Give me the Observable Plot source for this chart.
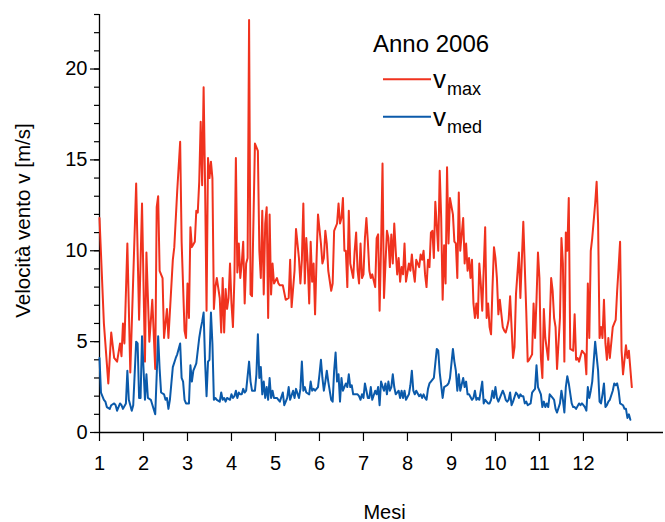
<!DOCTYPE html>
<html><head><meta charset="utf-8">
<script src="https://cdn.jsdelivr.net/npm/d3@7"></script>
<script src="https://cdn.jsdelivr.net/npm/@observablehq/plot@0.6"></script>
<style>body{margin:0;background:#fff} svg{display:block}</style>
</head><body><div id="chart"></div>
<script>
// [giorno dell'anno, velocità m/s]
const vMaxGiornaliera = [[0,11.8],[3,6.0],[4,4.9],[6,2.7],[8,5.5],[10,4.1],[12,3.9],[14,4.9],[15,4.2],[16,6.0],[17,4.9],[19,10.4],[21,3.3],[25,13.7],[27,6.2],[29,12.6],[31,3.9],[32,9.9],[34,5.0],[36,7.3],[38,3.5],[39,12.4],[40,13.0],[41,8.9],[43,8.5],[44,5.2],[46,6.8],[47,5.2],[50,9.5],[51,10.2],[53,13.3],[55,16.0],[56,10.5],[58,5.6],[59,5.2],[60,8.2],[61,6.3],[62,11.3],[63,10.2],[65,10.5],[66,12.2],[67,12.1],[68,13.8],[69,17.1],[70,13.6],[71,19.0],[72,13.6],[73,6.7],[74,15.1],[75,14.0],[76,14.9],[77,14.0],[78,6.8],[79,8.0],[80,8.5],[82,7.4],[83,5.5],[84,8.5],[85,5.5],[86,7.9],[87,6.8],[88,7.4],[89,9.3],[90,7.1],[91,5.8],[92,8.5],[93,15.1],[94,8.8],[95,10.4],[96,8.5],[97,9.3],[98,10.5],[99,7.1],[100,9.3],[101,9.6],[102,22.7],[103,7.6],[104,7.5],[106,15.9],[108,15.5],[109,10.0],[110,8.5],[111,12.2],[112,7.6],[113,11.5],[114,12.4],[115,6.3],[116,12.0],[117,7.6],[118,9.3],[119,8.2],[121,8.5],[122,8.2],[123,8.1],[125,8.1],[127,7.3],[129,7.4],[130,9.5],[131,6.9],[133,8.9],[134,11.2],[136,9.6],[137,8.2],[138,9.5],[139,12.6],[140,8.2],[141,10.7],[142,9.3],[143,7.1],[144,10.5],[145,8.3],[146,9.3],[147,6.5],[148,9.5],[149,12.0],[151,10.4],[152,9.3],[153,9.6],[154,11.1],[155,10.4],[156,8.9],[158,7.8],[159,8.2],[160,11.1],[162,11.5],[163,12.6],[164,11.5],[165,11.8],[166,12.9],[167,10.0],[168,10.0],[169,8.0],[170,12.2],[171,9.3],[173,8.5],[174,10.0],[175,11.0],[176,8.9],[177,8.2],[178,10.4],[179,8.5],[180,8.7],[181,10.7],[182,11.8],[183,10.5],[184,8.9],[185,8.5],[186,8.7],[188,8.0],[189,10.7],[190,10.9],[191,6.7],[192,10.2],[193,14.8],[194,7.4],[196,11.1],[197,10.7],[198,9.1],[199,10.9],[200,9.3],[201,11.5],[202,10.0],[203,8.7],[204,9.6],[205,8.3],[206,9.1],[207,8.7],[208,10.4],[209,8.3],[211,9.3],[212,8.9],[213,9.8],[214,8.9],[215,8.3],[216,9.5],[218,9.1],[219,9.8],[220,9.5],[221,10.0],[222,8.7],[223,8.0],[224,9.5],[225,9.1],[226,11.0],[227,11.1],[228,9.6],[229,12.7],[231,10.0],[232,14.4],[233,11.8],[234,7.3],[235,10.3],[236,8.2],[237,14.6],[238,10.4],[239,12.9],[241,12.0],[242,10.5],[243,10.4],[244,8.5],[245,13.2],[246,10.0],[248,11.8],[249,9.3],[250,10.4],[251,8.9],[252,9.6],[253,8.5],[254,9.5],[255,7.1],[256,6.3],[257,7.1],[258,6.3],[259,9.3],[260,8.2],[261,6.7],[263,11.3],[264,6.3],[265,7.1],[266,5.8],[267,5.4],[268,8.0],[269,10.2],[270,9.6],[271,8.5],[272,6.5],[273,7.3],[275,5.8],[276,5.6],[277,5.5],[278,5.8],[279,6.2],[280,7.5],[282,4.1],[283,4.7],[284,7.6],[286,9.9],[287,7.4],[289,11.6],[291,6.7],[292,3.9],[293,4.0],[295,4.3],[296,7.1],[297,5.2],[298,7.3],[299,9.9],[300,8.5],[301,4.1],[302,3.0],[303,6.8],[304,5.2],[306,4.0],[307,6.0],[308,8.5],[309,7.8],[310,6.3],[311,5.8],[312,3.5],[314,6.3],[315,10.7],[316,9.3],[317,3.9],[318,11.0],[319,10.0],[320,12.9],[321,4.6],[323,4.5],[324,6.5],[325,4.0],[326,4.1],[327,3.9],[329,4.5],[331,4.3],[332,3.2],[333,8.2],[334,5.2],[335,10.0],[336,10.7],[338,12.6],[339,13.8],[340,11.5],[341,5.2],[342,5.8],[343,5.2],[344,7.3],[345,4.9],[346,4.0],[347,5.2],[348,4.1],[350,5.8],[351,6.0],[352,6.2],[353,7.8],[354,9.1],[355,10.5],[356,4.5],[357,3.2],[359,4.8],[360,4.1],[361,4.5],[363,2.5]];

const vMedGiornaliera = [[0,4.1],[1,2.2],[3,1.8],[4,1.7],[5,1.4],[7,1.3],[8,1.5],[10,1.6],[11,1.5],[12,1.2],[14,1.6],[15,1.5],[16,1.3],[18,1.6],[19,3.4],[20,1.8],[22,1.2],[23,1.5],[25,5.0],[26,4.9],[27,1.9],[28,1.9],[29,5.3],[31,1.8],[32,3.2],[33,1.9],[35,1.8],[38,1.0],[40,5.3],[41,3.5],[42,2.2],[44,2.1],[45,1.8],[46,1.9],[47,1.3],[48,1.8],[49,2.7],[50,3.6],[52,4.1],[53,4.3],[55,4.9],[56,3.0],[57,2.8],[58,1.8],[59,1.6],[61,1.6],[62,3.7],[63,2.8],[64,3.4],[65,3.6],[66,3.8],[68,5.2],[69,5.7],[70,6.1],[71,6.6],[72,3.9],[73,2.0],[74,3.9],[75,4.0],[76,6.6],[77,4.9],[78,1.8],[79,1.9],[80,1.8],[82,1.7],[83,2.2],[84,1.8],[85,1.9],[86,1.7],[87,1.9],[89,1.8],[90,2.1],[91,1.9],[92,2.0],[93,2.3],[94,1.9],[95,2.2],[96,2.1],[97,2.1],[98,2.4],[99,2.2],[100,2.3],[102,3.9],[103,2.8],[104,2.3],[106,2.3],[107,3.2],[108,5.4],[109,3.0],[110,3.6],[111,2.1],[112,2.8],[113,1.9],[114,2.5],[115,1.8],[116,3.0],[117,1.9],[118,2.3],[119,1.9],[121,1.9],[122,1.8],[123,1.7],[125,2.2],[126,1.5],[127,1.7],[128,1.9],[129,2.5],[130,1.8],[132,2.3],[133,1.9],[134,2.4],[136,1.9],[137,2.4],[138,3.9],[139,2.3],[140,2.5],[141,2.2],[143,2.1],[144,2.8],[145,2.3],[146,2.4],[147,2.3],[149,2.5],[150,3.2],[151,4.0],[152,3.0],[153,2.3],[154,2.8],[155,3.4],[156,2.8],[158,1.8],[159,1.7],[160,3.4],[161,4.4],[162,2.8],[163,3.2],[164,1.7],[165,3.0],[166,2.3],[168,2.7],[169,2.5],[170,3.2],[171,2.5],[172,2.6],[173,2.1],[175,2.1],[176,2.1],[177,2.0],[178,1.8],[179,2.1],[180,1.9],[181,2.7],[182,2.3],[183,1.9],[184,1.9],[185,2.5],[186,1.8],[188,2.3],[189,2.1],[190,2.5],[191,1.5],[192,2.8],[194,2.3],[195,2.7],[196,2.1],[197,2.8],[198,2.3],[199,2.5],[200,3.2],[201,2.5],[202,2.1],[204,2.3],[205,1.9],[206,2.3],[207,1.9],[208,2.3],[209,1.8],[211,2.1],[212,2.6],[213,3.4],[214,2.3],[215,2.1],[216,2.3],[218,2.0],[219,2.1],[220,1.9],[221,2.1],[222,1.9],[223,1.8],[224,2.4],[225,2.7],[226,2.8],[228,3.0],[229,3.8],[230,4.6],[231,4.5],[232,3.3],[234,1.9],[235,2.5],[237,2.6],[238,2.7],[239,3.0],[241,4.6],[242,3.9],[243,3.4],[244,2.3],[245,3.2],[246,2.3],[248,3.0],[249,2.5],[250,2.8],[251,2.1],[252,2.1],[254,1.8],[255,1.9],[256,2.3],[257,1.8],[258,1.9],[259,1.8],[261,2.8],[262,1.6],[263,1.8],[265,1.6],[266,1.6],[267,1.8],[268,2.3],[269,1.9],[270,2.5],[271,1.9],[272,1.7],[273,1.9],[275,2.3],[276,2.1],[277,1.8],[278,1.7],[279,1.8],[280,2.2],[281,1.5],[282,1.7],[284,2.2],[285,2.1],[286,1.9],[287,2.1],[288,2.0],[289,2.0],[290,1.6],[291,1.7],[292,1.5],[294,1.6],[295,2.2],[296,2.3],[297,2.4],[298,3.7],[299,2.5],[301,2.1],[302,1.4],[303,1.7],[304,1.4],[305,1.6],[306,1.4],[307,2.1],[309,1.9],[310,1.8],[311,1.3],[312,1.1],[314,1.6],[315,2.3],[316,1.8],[317,1.1],[318,2.5],[319,3.1],[320,2.7],[322,1.6],[323,1.4],[324,1.4],[325,1.3],[327,1.6],[328,1.5],[329,1.6],[330,1.5],[331,1.4],[332,1.2],[333,2.5],[334,1.9],[335,2.3],[336,2.8],[337,3.9],[338,5.0],[340,3.4],[341,1.7],[342,1.6],[343,2.1],[344,2.7],[345,1.4],[346,1.5],[347,1.7],[348,1.8],[350,2.3],[351,2.7],[352,2.6],[353,2.7],[354,2.3],[355,1.6],[357,1.5],[358,1.3],[359,1.3],[360,0.8],[361,1.0],[362,0.7]];

const mesiTicks = [1,2,3,4,5,6,7,8,9,10,11,12,13];
const mesiEtichette = ["1","2","3","4","5","6","7","8","9","10","11","12",""];
const yTicksPrincipali = [0,5,10,15,20];
const yTicksSecondari = [0,1,2,3,4,5,6,7,8,9,10,11,12,13,14,15,16,17,18,19,20,21,22,23];
const titoloLegenda = "Anno 2006";
const serie = [
  {simbolo: "v", pedice: "max", colore: "#f0321e"},
  {simbolo: "v", pedice: "med", colore: "#0b5aaa"}
];
const etichettaX = "Mesi";
const etichettaY = "Velocità vento v [m/s]";

const font = "'Liberation Sans', Arial, Helvetica, sans-serif";
const toMese = g => 1 + g / 30;
const datiMax = vMaxGiornaliera.map(([g, v]) => ({mese: toMese(g), v}));
const datiMed = vMedGiornaliera.map(([g, v]) => ({mese: toMese(g), v}));

const chart = Plot.plot({
  width: 665, height: 522,
  marginLeft: 99, marginRight: 2, marginTop: 14, marginBottom: 90,
  style: {fontFamily: font, background: "#fff", color: "#000", overflow: "visible"},
  x: {domain: [1, 13.82], label: null},
  y: {domain: [0, 23], label: null},
  marks: [
    Plot.axisY(yTicksSecondari, {tickSize: 5, tickFormat: () => "", label: null, strokeWidth: 1.2}),
    Plot.axisY(yTicksPrincipali, {tickSize: 9, tickPadding: 3, fontSize: 20, label: null, strokeWidth: 1.2}),
    Plot.axisX(mesiTicks, {tickSize: 9, tickPadding: 14, fontSize: 20, label: null, strokeWidth: 1.2,
      tickFormat: d => mesiEtichette[mesiTicks.indexOf(d)]}),
    Plot.ruleX([1], {strokeWidth: 1.3}),
    Plot.ruleY([0], {strokeWidth: 1.3}),
    Plot.line(datiMax, {x: "mese", y: "v", stroke: serie[0].colore, strokeWidth: 2}),
    Plot.line(datiMed, {x: "mese", y: "v", stroke: serie[1].colore, strokeWidth: 2}),
    Plot.text([etichettaX], {frameAnchor: "bottom", dx: 3, dy: 86, fontSize: 20, lineAnchor: "bottom"}),
    Plot.text([etichettaY], {frameAnchor: "left", textAnchor: "middle", rotate: -90, dx: -76, dy: -3, fontSize: 20.6})
  ]
});
document.getElementById("chart").appendChild(chart);

// Legenda
const svg = d3.select(chart);
const leg = svg.append("g").attr("font-family", font).attr("fill", "#000").attr("text-anchor", "start");
leg.append("text").attr("x", 373).attr("y", 52).attr("font-size", 24).text(titoloLegenda);
serie.forEach((s, i) => {
  const y0 = 79.3 + i * 37.4;
  leg.append("line").attr("x1", 383).attr("x2", 431).attr("y1", y0).attr("y2", y0)
    .attr("stroke", s.colore).attr("stroke-width", 2);
  leg.append("text").attr("x", 433).attr("y", y0 + 9).attr("font-size", 26).text(s.simbolo);
  leg.append("text").attr("x", 447).attr("y", y0 + 16).attr("font-size", 18).text(s.pedice);
});
</script></body></html>
